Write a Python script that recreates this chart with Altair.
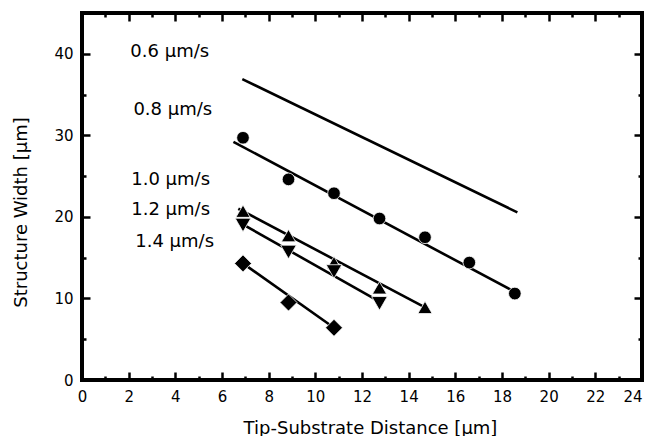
import altair as alt
import pandas as pd

# ---------------- data ----------------
circle_x = [6.9, 8.85, 10.8, 12.75, 14.7, 16.6, 18.55]
circle_y = [29.7, 24.6, 22.9, 19.8, 17.5, 14.4, 10.6]
up_x = [6.9, 8.85, 10.8, 12.75, 14.7]
up_y = [20.7, 17.7, 14.4, 11.3, 8.9]
down_x = [6.9, 8.85, 10.8, 12.75]
down_y = [19.0, 15.7, 13.3, 9.4]
diamond_x = [6.9, 8.85, 10.8]
diamond_y = [14.3, 9.5, 6.4]

fit_series = ["0.6", "0.6", "0.8", "0.8", "1.0", "1.0", "1.2", "1.2", "1.4", "1.4"]
fit_x = [6.87, 18.66, 6.49, 18.55, 6.7, 14.7, 6.7, 12.75, 6.9, 10.8]
fit_y = [36.9, 20.55, 29.2, 10.8, 21.0, 8.9, 19.4, 9.6, 14.3, 6.4]

label_text = ["0.6 µm/s", "0.8 µm/s", "1.0 µm/s", "1.2 µm/s", "1.4 µm/s"]
label_x = [3.76, 3.89, 3.8, 3.8, 3.97]
label_y = [39.6, 32.5, 23.85, 20.2, 16.3]

x_major = list(range(0, 25, 2))
x_minor = list(range(1, 24, 2))
y_major = [0, 10, 20, 30, 40]
y_minor = [5, 15, 25, 35]

series_names = ["0.8", "1.0", "1.2", "1.4"]
series_shapes = ["circle", "triangle-up", "triangle-down", "diamond"]
series_sizes = [160, 290, 290, 270]

# ---------------- tables ----------------
pts = pd.concat([
    pd.DataFrame({"x": circle_x, "y": circle_y, "series": "0.8"}),
    pd.DataFrame({"x": up_x, "y": up_y, "series": "1.0"}),
    pd.DataFrame({"x": down_x, "y": down_y, "series": "1.2"}),
    pd.DataFrame({"x": diamond_x, "y": diamond_y, "series": "1.4"}),
], ignore_index=True)
fits = pd.DataFrame({"x": fit_x, "y": fit_y, "series": fit_series})
labels = pd.DataFrame({"x": label_x, "y": label_y, "text": label_text})

FONT = "DejaVu Sans"
xs = alt.Scale(domain=[0, 24], nice=False, zero=False)
ys = alt.Scale(domain=[0, 45], nice=False, zero=False)

lines = alt.Chart(fits).mark_line(color="black", strokeWidth=2.6).encode(
    x=alt.X("x:Q", scale=xs, axis=None),
    y=alt.Y("y:Q", scale=ys, axis=None),
    detail="series:N",
)

points = alt.Chart(pts).mark_point(
    filled=True, fill="black", stroke="white", strokeWidth=0.8, opacity=1
).encode(
    x=alt.X("x:Q", scale=xs, axis=None),
    y=alt.Y("y:Q", scale=ys, axis=None),
    shape=alt.Shape("series:N", scale=alt.Scale(domain=series_names, range=series_shapes), legend=None),
    size=alt.Size("series:N", scale=alt.Scale(domain=series_names, range=series_sizes), legend=None),
)

texts = alt.Chart(labels).mark_text(
    font=FONT, fontSize=18, align="center", baseline="alphabetic", color="black"
).encode(
    x=alt.X("x:Q", scale=xs, axis=None),
    y=alt.Y("y:Q", scale=ys, axis=None),
    text="text:N",
)

LABEL_STYLE = dict(format="d", ticks=False, tickSize=0, domain=False, grid=False,
                   labelOverlap=False, labelFont=FONT, labelFontSize=15,
                   labelColor="black")

# axis with labels and titles
label_layer = alt.Chart(fits).mark_point(opacity=0).encode(
    x=alt.X("x:Q", scale=xs, axis=alt.Axis(
        orient="bottom", values=x_major[:-1], labelFlush=False,
        labelBaseline="alphabetic", labelPadding=21,
        title="Tip-Substrate Distance [µm]", titleFont=FONT, titleFontSize=18,
        titleFontWeight="normal", titleColor="black",
        titleX=288, titleY=53, titleBaseline="alphabetic", **LABEL_STYLE)),
    y=alt.Y("y:Q", scale=ys, axis=alt.Axis(
        orient="left", values=y_major,
        labelBaseline="middle", labelPadding=9,
        title="Structure Width [µm]", titleFont=FONT, titleFontSize=18,
        titleFontWeight="normal", titleColor="black",
        titleX=-56, titleY=199, titleBaseline="alphabetic", **LABEL_STYLE)),
)

# last x label kept inside the page
last_label_layer = alt.Chart(fits).mark_point(opacity=0).encode(
    x=alt.X("x:Q", scale=xs, axis=alt.Axis(
        orient="bottom", values=x_major[-1:], labelFlush=False,
        labelBaseline="alphabetic", labelPadding=21, labelAlign="right",
        title=None, **LABEL_STYLE)),
    y=alt.Y("y:Q", scale=ys, axis=None),
)


def tick_axis(orient, values, size):
    return alt.Axis(orient=orient, values=values, offset=-size, tickSize=size,
                    tickWidth=2.5, tickColor="black", labels=False, domain=False,
                    grid=False, title=None)


def tick_layer(xaxis, yaxis):
    return alt.Chart(fits).mark_point(opacity=0).encode(
        x=alt.X("x:Q", scale=xs, axis=xaxis),
        y=alt.Y("y:Q", scale=ys, axis=yaxis),
    )


t1 = tick_layer(tick_axis("bottom", x_major, 8), tick_axis("left", y_major, 8))
t2 = tick_layer(tick_axis("bottom", x_minor, 4), tick_axis("left", y_minor, 4))
t3 = tick_layer(tick_axis("top", x_major, 8), tick_axis("right", y_major, 8))
t4 = tick_layer(tick_axis("top", x_minor, 4), tick_axis("right", y_minor, 4))

chart = alt.layer(label_layer, last_label_layer, t1, t2, t3, t4, lines, points, texts).resolve_axis(
    x="independent", y="independent"
).properties(
    width=560, height=367,
    autosize=alt.AutoSizeParams(type="none"),
    padding={"left": 74, "top": 5, "right": 2, "bottom": 56},
    background="white",
).configure_view(stroke="black", strokeWidth=4)

chart.save("out.html", embed_options={"renderer": "svg", "actions": False})
